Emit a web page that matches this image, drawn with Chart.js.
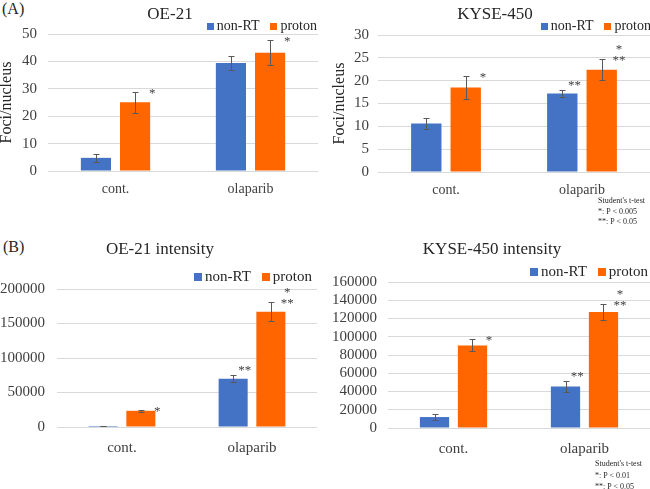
<!DOCTYPE html>
<html>
<head>
<meta charset="utf-8">
<script src="https://cdn.jsdelivr.net/npm/chart.js@4.4.1/dist/chart.umd.min.js"></script>
<style>
  body { margin: 0; width: 650px; height: 489px; background: #fff; position: relative; overflow: hidden;
         font-family: "Liberation Serif", "Times New Roman", serif; color: #262626; }
  canvas { position: absolute; }
  .tag { position: absolute; font-size: 16px; line-height: 18px; }
  .note { position: absolute; font-size: 8px; line-height: 10.5px; white-space: nowrap; }
</style>
</head>
<body>
<div class="tag" style="left:2px;top:0px">(A)</div>
<div class="tag" style="left:3px;top:238px">(B)</div>

<canvas id="oeFoci" width="325" height="200" style="left:0;top:0"></canvas>
<canvas id="kyFoci" width="325" height="200" style="left:325px;top:0"></canvas>
<canvas id="oeInt" width="325" height="225" style="left:0;top:235px"></canvas>
<canvas id="kyInt" width="325" height="225" style="left:325px;top:235px"></canvas>

<div class="note" style="left:598px;top:196px">Student's t-test<br>*: P &lt; 0.005<br>**: P &lt; 0.05</div>
<div class="note" style="left:595px;top:458px;line-height:11.5px">Student's t-test<br>*: P &lt; 0.01<br>**: P &lt; 0.05</div>

<script>
// categories and series
const categories = ['cont.', 'olaparib'];
const seriesNames = ['non-RT', 'proton'];

// (A) OE-21 foci/nucleus
const oeFociNonRT = [4.8, 39.4];
const oeFociNonRTErr = [1.5, 2.4];
const oeFociProton = [25.1, 43.2];
const oeFociProtonErr = [3.9, 4.5];
const oeFociNonRTMarks = ['', ''];
const oeFociProtonMarks = ['*', '*'];

// (A) KYSE-450 foci/nucleus
const kyFociNonRT = [10.6, 17.2];
const kyFociNonRTErr = [1.2, 0.7];
const kyFociProton = [18.5, 22.4];
const kyFociProtonErr = [2.5, 2.3];
const kyFociNonRTMarks = ['', '**'];
const kyFociProtonMarks = ['*', '*\n**'];

// (B) OE-21 intensity
const oeIntNonRT = [1500, 70000];
const oeIntNonRTErr = [400, 5500];
const oeIntProton = [23500, 167000];
const oeIntProtonErr = [1500, 13500];
const oeIntNonRTMarks = ['', '**'];
const oeIntProtonMarks = ['*', '*\n**'];

// (B) KYSE-450 intensity
const kyIntNonRT = [12000, 45500];
const kyIntNonRTErr = [3000, 6500];
const kyIntProton = [90500, 127000];
const kyIntProtonErr = [6500, 9000];
const kyIntNonRTMarks = ['', '**'];
const kyIntProtonMarks = ['*', '*\n**'];

const FONT = '"Liberation Serif", "Times New Roman", serif';
const BLUE = '#4472C4';
const ORANGE = '#FF6600';

// error bars + significance asterisks, drawn through the y scale
const barExtras = {
    id: 'barExtras',
    afterDatasetsDraw(chart) {
        const ctx = chart.ctx;
        const yScale = chart.scales.y;
        chart.data.datasets.forEach((ds, i) => {
            const meta = chart.getDatasetMeta(i);
            meta.data.forEach((bar, j) => {
                const v = ds.data[j];
                const e = ds.errors[j];
                const top = Math.round(yScale.getPixelForValue(v + e)) + 0.5;
                const bot = Math.round(yScale.getPixelForValue(v - e)) + 0.5;
                const x = Math.round(bar.x) + 0.5;
                ctx.save();
                ctx.strokeStyle = '#595959';
                ctx.lineWidth = 1;
                ctx.beginPath();
                ctx.moveTo(x, top); ctx.lineTo(x, bot);
                ctx.moveTo(x - 3, top); ctx.lineTo(x + 3, top);
                ctx.moveTo(x - 3, bot); ctx.lineTo(x + 3, bot);
                ctx.stroke();

                const mark = ds.marks[j];
                if (mark) {
                    const lines = mark.split('\n').reverse();
                    ctx.font = '13px ' + FONT;
                    ctx.fillStyle = '#404040';
                    ctx.textAlign = 'center';
                    ctx.textBaseline = 'alphabetic';
                    const mx = bar.x + bar.width / 2 + ds.markOffset[0];
                    lines.forEach((t, k) => {
                        ctx.fillText(t, mx, top + ds.markOffset[1] - k * 11);
                    });
                }
                ctx.restore();
            });
        });
    }
};

// chart title + small legend (right aligned, as in the figure)
const panelHeader = {
    id: 'panelHeader',
    afterDraw(chart, args, o) {
        const ctx = chart.ctx;
        ctx.save();
        ctx.fillStyle = '#262626';
        ctx.font = o.titleSize + 'px ' + FONT;
        ctx.textAlign = 'center';
        ctx.textBaseline = 'middle';
        ctx.fillText(o.text, o.titleX, o.titleY);

        ctx.font = o.legendSize + 'px ' + FONT;
        ctx.textAlign = 'left';
        const items = chart.data.datasets.map(d => ({
            text: d.label, color: d.backgroundColor, w: ctx.measureText(d.label).width
        }));
        const gap = 3, space = 11;
        const total = items.reduce((s, it) => s + o.box + gap + it.w, 0) + space * (items.length - 1);
        let x = o.legendRight - total;
        items.forEach(it => {
            ctx.fillStyle = it.color;
            ctx.fillRect(Math.round(x), Math.round(o.legendY - o.box / 2), o.box, o.box);
            x += o.box + gap;
            ctx.fillStyle = '#262626';
            ctx.fillText(it.text, x, o.legendY);
            x += it.w + space;
        });
        ctx.restore();
    }
};

function makePanel(id, p) {
    return new Chart(document.getElementById(id), {
        type: 'bar',
        data: {
            labels: categories,
            datasets: [
                { label: seriesNames[0], data: p.nonRT, errors: p.nonRTErr, marks: p.nonRTMarks,
                  backgroundColor: BLUE, markOffset: [-3, -2] },
                { label: seriesNames[1], data: p.proton, errors: p.protonErr, marks: p.protonMarks,
                  backgroundColor: ORANGE, markOffset: [2, 4] }
            ]
        },
        options: {
            responsive: false,
            animation: false,
            datasets: { bar: { categoryPercentage: 0.58, barPercentage: 0.77 } },
            layout: { padding: { top: p.top, right: p.right, left: 0, bottom: 0 } },
            plugins: {
                legend: { display: false },
                title: { display: false },
                tooltip: { enabled: false },
                panelHeader: p.header
            },
            scales: {
                x: {
                    grid: { display: false },
                    border: { display: false },
                    ticks: { color: '#404040', padding: p.xPad, font: { family: FONT, size: p.xFont } },
                    afterFit: s => { s.height = p.xHeight; }
                },
                y: {
                    min: 0,
                    max: p.max,
                    ticks: {
                        stepSize: p.step, autoSkip: false, format: { useGrouping: false },
                        color: '#404040', padding: p.yPad, font: { family: FONT, size: 15 }
                    },
                    grid: { color: '#D9D9D9', drawTicks: false },
                    border: { display: false },
                    title: p.yTitle ? {
                        display: true, text: p.yTitle, color: '#262626',
                        font: { family: FONT, size: 16, lineHeight: 0.9 },
                        padding: { top: p.yTitlePad, bottom: 0 }
                    } : { display: false },
                    afterFit: s => { s.width = p.yWidth; }
                }
            }
        },
        plugins: [barExtras, panelHeader]
    });
}

makePanel('oeFoci', {
    nonRT: oeFociNonRT, nonRTErr: oeFociNonRTErr, nonRTMarks: oeFociNonRTMarks,
    proton: oeFociProton, protonErr: oeFociProtonErr, protonMarks: oeFociProtonMarks,
    max: 50, step: 10, top: 34, right: 7, yWidth: 48, yPad: 11, xHeight: 29, xPad: 2, xFont: 14,
    yTitle: 'Foci/nucleus', yTitlePad: 0,
    header: { text: 'OE-21', titleX: 170, titleY: 15, titleSize: 17,
              legendRight: 317, legendY: 26.5, legendSize: 14, box: 7 }
});

makePanel('kyFoci', {
    nonRT: kyFociNonRT, nonRTErr: kyFociNonRTErr, nonRTMarks: kyFociNonRTMarks,
    proton: kyFociProton, protonErr: kyFociProtonErr, protonMarks: kyFociProtonMarks,
    max: 30, step: 5, top: 35, right: 0, yWidth: 53, yPad: 9, xHeight: 28, xPad: 2, xFont: 14,
    yTitle: 'Foci/nucleus', yTitlePad: 8,
    header: { text: 'KYSE-450', titleX: 170, titleY: 15, titleSize: 17,
              legendRight: 326, legendY: 26.5, legendSize: 14, box: 7 }
});

makePanel('oeInt', {
    nonRT: oeIntNonRT, nonRTErr: oeIntNonRTErr, nonRTMarks: oeIntNonRTMarks,
    proton: oeIntProton, protonErr: oeIntProtonErr, protonMarks: oeIntProtonMarks,
    max: 200000, step: 50000, top: 54, right: 8, yWidth: 57, yPad: 12, xHeight: 33, xPad: 4, xFont: 15,
    yTitle: null,
    header: { text: 'OE-21 intensity', titleX: 160, titleY: 15, titleSize: 17,
              legendRight: 312, legendY: 42, legendSize: 15, box: 8 }
});

makePanel('kyInt', {
    nonRT: kyIntNonRT, nonRTErr: kyIntNonRTErr, nonRTMarks: kyIntNonRTMarks,
    proton: kyIntProton, protonErr: kyIntProtonErr, protonMarks: kyIntProtonMarks,
    max: 160000, step: 20000, top: 47, right: 0, yWidth: 63, yPad: 11, xHeight: 32, xPad: 4, xFont: 15,
    yTitle: null,
    header: { text: 'KYSE-450 intensity', titleX: 167, titleY: 15, titleSize: 17,
              legendRight: 323, legendY: 37, legendSize: 15, box: 8 }
});
</script>
</body>
</html>
